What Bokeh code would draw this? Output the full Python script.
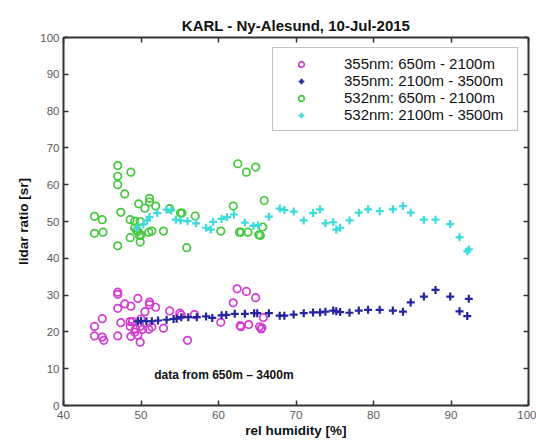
from bokeh.plotting import figure
from bokeh.models import LinearAxis, FixedTicker, Label, Range1d
from bokeh.embed import file_html
from bokeh.resources import INLINE

FONT = "Liberation Sans"

title_text = "KARL - Ny-Alesund, 10-Jul-2015"
x_label = "rel humidity [%]"
y_label = "lidar ratio [sr]"
note_text = "data from 650m – 3400m"
x_ticks = [40, 50, 60, 70, 80, 90, 100]
y_ticks = [0, 10, 20, 30, 40, 50, 60, 70, 80, 90, 100]

series_names = ["355nm: 650m - 2100m", "355nm: 2100m - 3500m",
                "532nm: 650m - 2100m", "532nm: 2100m - 3500m"]

# 355nm, 650m - 2100m (circles)
m_x = [44.0, 44.0, 45.0, 45.0, 45.2, 47.0, 47.0, 47.0, 47.0, 47.4, 47.9, 48.7,
       49.6, 48.6, 48.7, 48.9, 49.2, 49.3, 49.6, 49.9, 49.9, 50.2, 50.5, 51.0,
       51.1, 51.1, 51.4, 51.9, 52.9, 53.7, 55.0, 55.2, 56.0, 56.9, 60.3, 61.9,
       62.4, 63.6, 64.8, 62.8, 62.9, 63.9, 65.3, 65.5, 65.6, 65.8, 48.6, 50.0]
m_y = [21.5, 18.9, 23.6, 18.6, 17.7, 30.8, 30.2, 26.4, 18.9, 22.5, 27.6, 27.0,
       29.1, 21.5, 18.8, 22.8, 19.9, 20.8, 19.1, 17.2, 21.5, 20.7, 25.5, 20.7,
       28.1, 27.4, 21.3, 26.7, 21.0, 25.7, 25.1, 24.6, 17.7, 24.7, 22.6, 27.9,
       31.7, 31.0, 29.3, 21.7, 21.4, 22.0, 21.4, 20.8, 21.1, 23.9, 22.8, 23.5]

# 355nm, 2100m - 3500m (plus)
b_x = [49.6, 50.0, 50.7, 51.4, 52.2, 53.3, 54.2, 54.6, 55.2, 56.1, 57.2, 58.4,
       59.2, 60.4, 61.0, 62.1, 63.4, 64.6, 65.0, 66.5, 67.9, 68.5, 69.7, 71.0,
       72.2, 73.1, 73.8, 74.8, 75.2, 75.7, 76.9, 78.1, 79.3, 80.8, 82.5, 83.8,
       84.8, 86.5, 88.0, 89.9, 91.1, 92.1, 92.3]
b_y = [22.9, 23.0, 22.9, 22.9, 23.1, 23.3, 23.5, 23.6, 24.0, 24.0, 24.0, 24.2,
       23.8, 24.5, 24.6, 24.9, 24.9, 25.1, 25.1, 25.1, 24.4, 24.4, 24.7, 25.1,
       25.3, 25.3, 25.5, 25.8, 25.6, 25.4, 25.2, 25.8, 26.0, 26.0, 25.8, 25.5,
       28.0, 29.6, 31.4, 29.6, 25.6, 24.3, 29.0]

# 532nm, 650m - 2100m (circles)
g_x = [44.0, 45.0, 44.0, 45.1, 47.0, 47.0, 47.0, 48.7, 47.9, 47.4, 47.0, 48.6,
       48.6, 49.7, 50.5, 51.1, 51.1, 51.9, 49.9, 49.2, 49.4, 49.6, 50.0, 49.9,
       51.0, 51.4, 52.9, 53.7, 55.1, 55.3, 57.0, 55.9, 60.3, 62.5, 63.6, 64.8,
       61.9, 62.7, 62.9, 63.8, 65.2, 65.4, 65.7, 65.9, 49.2, 49.8]
g_y = [51.4, 50.5, 46.8, 47.1, 65.2, 62.3, 60.0, 63.4, 57.5, 52.5, 43.4, 50.5,
       45.6, 54.8, 53.6, 56.3, 55.3, 54.2, 50.0, 48.3, 47.6, 47.3, 46.3, 44.4,
       47.1, 47.4, 47.4, 53.5, 52.3, 52.3, 51.5, 42.9, 47.4, 65.7, 63.4, 64.8,
       54.2, 47.1, 47.1, 47.1, 46.4, 46.2, 48.5, 55.7, 50.1, 46.2]

# 532nm, 2100m - 3500m (plus)
c_x = [49.5, 50.3, 50.8, 51.1, 52.1, 53.3, 53.9, 54.5, 55.1, 56.0, 57.1, 58.4,
       59.0, 59.3, 60.4, 61.1, 62.0, 63.4, 64.5, 65.1, 66.5, 67.9, 68.5, 69.7,
       71.0, 72.2, 73.1, 73.8, 74.8, 75.2, 75.7, 76.9, 78.1, 79.3, 80.8, 82.5,
       83.8, 84.8, 86.5, 88.0, 89.9, 91.1, 92.1, 92.3]
c_y = [48.3, 49.2, 50.3, 51.2, 52.3, 53.2, 53.0, 50.5, 50.3, 50.1, 49.5, 48.3,
       47.8, 49.9, 50.7, 51.2, 51.9, 49.7, 48.8, 49.0, 51.3, 53.5, 53.1, 52.7,
       50.3, 52.3, 53.3, 49.5, 49.8, 47.8, 48.3, 50.3, 52.4, 53.3, 52.8, 53.3,
       54.2, 52.4, 50.5, 50.5, 49.3, 45.7, 41.9, 42.4]

colors = ["#d23cd2", "#2424a0", "#44c83c", "#3cdcdc"]

p = figure(width=536, height=441, x_range=Range1d(40, 100), y_range=Range1d(0, 100),
           output_backend="svg", toolbar_location=None,
           min_border_left=63, min_border_right=8, min_border_top=37, min_border_bottom=36,
           background_fill_color="white", border_fill_color="white")

p.title.text = title_text
p.title.text_font = FONT
p.title.text_font_size = "15px"
p.title.text_font_style = "bold"
p.title.text_color = "#111111"
p.title.align = "center"
p.title.standoff = 7
p.title.offset = 0

p.xgrid.visible = False
p.ygrid.visible = False
p.outline_line_color = None

def style_axis(ax, ticks, show_labels):
    ax.ticker = FixedTicker(ticks=ticks)
    ax.axis_line_width = 2
    ax.axis_line_color = "#333333"
    ax.major_tick_line_color = "#333333"
    ax.major_tick_line_width = 1.5
    ax.major_tick_in = 5
    ax.major_tick_out = 0
    ax.minor_tick_line_color = None
    ax.major_label_text_font = FONT
    ax.major_label_text_color = "#5a5a5a"
    ax.axis_label_text_font = FONT
    ax.axis_label_text_font_style = "bold"
    ax.axis_label_text_color = "#111111"
    if show_labels:
        ax.major_label_text_font_size = "11.5px"
        ax.axis_label_text_font_size = "13.5px"
    else:
        ax.major_label_text_font_size = "0px"
        ax.major_label_standoff = 0
        ax.major_label_overrides = {t: "" for t in ticks}

p.xaxis.axis_label = x_label
p.yaxis.axis_label = y_label
style_axis(p.xaxis[0], x_ticks, True)
style_axis(p.yaxis[0], y_ticks, True)
p.xaxis.major_label_standoff = 5
p.xaxis.axis_label_standoff = 1
p.yaxis.major_label_standoff = 4
p.yaxis.axis_label_standoff = 6

top_ax = LinearAxis()
right_ax = LinearAxis()
style_axis(top_ax, x_ticks, False)
style_axis(right_ax, y_ticks, False)
p.add_layout(top_ax, "above")
p.add_layout(right_ax, "right")

p.scatter(m_x, m_y, marker="circle", size=7.5, fill_color=None, line_color=colors[0],
          line_width=1.7, legend_label=series_names[0])
p.scatter(b_x, b_y, marker="cross", size=8, line_color=colors[1],
          line_width=2.2, legend_label=series_names[1])
p.scatter(g_x, g_y, marker="circle", size=7.5, fill_color=None, line_color=colors[2],
          line_width=1.7, legend_label=series_names[2])
p.scatter(c_x, c_y, marker="cross", size=8, line_color=colors[3],
          line_width=2.2, legend_label=series_names[3])

note = Label(x=51.7, y=8.2, text=note_text, text_font=FONT, text_font_size="12px",
             text_font_style="bold", text_baseline="middle", text_color="#111111")
p.add_layout(note)

lg = p.legend[0]
lg.location = "top_right"
lg.margin = 10
lg.padding = 7
lg.spacing = 0
lg.glyph_width = 42
lg.glyph_height = 14
lg.label_height = 14
lg.label_width = 166
lg.label_standoff = 22
lg.label_text_font = FONT
lg.label_text_font_size = "15px"
lg.label_text_color = "#111111"
lg.border_line_color = "#888888"
lg.border_line_width = 1
lg.background_fill_color = "white"
lg.background_fill_alpha = 1.0

open("out.html", "w").write(file_html(p, INLINE))
